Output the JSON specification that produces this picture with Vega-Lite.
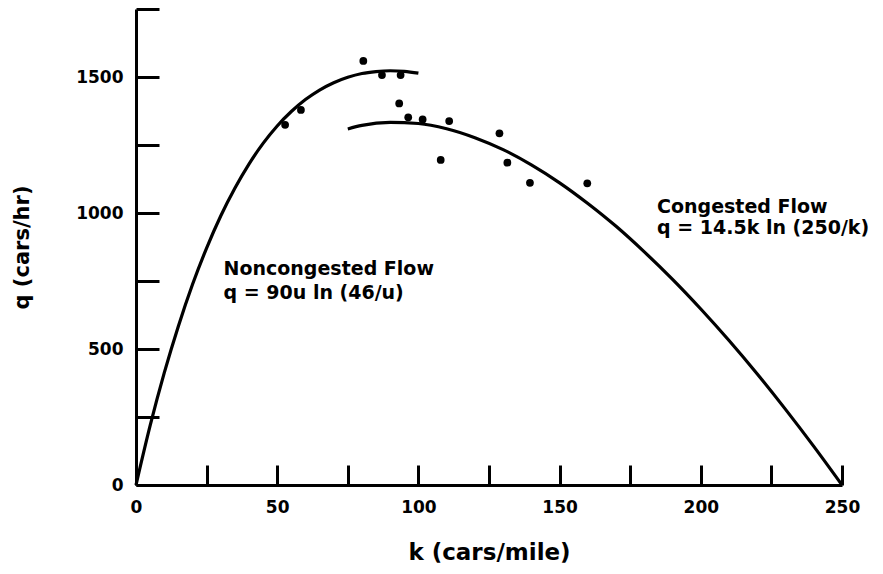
{
  "$schema": "https://vega.github.io/schema/vega-lite/v6.json",
  "width": 706,
  "height": 476,
  "autosize": {"type": "none"},
  "padding": {"left": 136, "top": 9, "right": 41, "bottom": 89},
  "background": "white",
  "config": {
    "view": {"stroke": null},
    "font": "DejaVu Sans",
    "axis": {
      "grid": false,
      "domainColor": "black",
      "domainWidth": 3,
      "tickColor": "black",
      "tickWidth": 3,
      "labelColor": "black",
      "titleColor": "black",
      "labelFont": "DejaVu Sans",
      "titleFont": "DejaVu Sans",
      "labelFontWeight": "bold",
      "titleFontWeight": "bold",
      "labelFontSize": 17
    }
  },
  "datasets": {
    "curves": [
      {"series": "noncongested", "k": 0, "q": 0},
      {"series": "noncongested", "k": 5, "q": 218},
      {"series": "noncongested", "k": 10, "q": 412},
      {"series": "noncongested", "k": 15, "q": 584},
      {"series": "noncongested", "k": 20, "q": 737},
      {"series": "noncongested", "k": 25, "q": 871},
      {"series": "noncongested", "k": 30, "q": 989},
      {"series": "noncongested", "k": 35, "q": 1091},
      {"series": "noncongested", "k": 40, "q": 1180},
      {"series": "noncongested", "k": 45, "q": 1256},
      {"series": "noncongested", "k": 50, "q": 1320},
      {"series": "noncongested", "k": 55, "q": 1373},
      {"series": "noncongested", "k": 60, "q": 1417},
      {"series": "noncongested", "k": 65, "q": 1452},
      {"series": "noncongested", "k": 70, "q": 1479},
      {"series": "noncongested", "k": 75, "q": 1499},
      {"series": "noncongested", "k": 80, "q": 1513},
      {"series": "noncongested", "k": 85, "q": 1520},
      {"series": "noncongested", "k": 90, "q": 1523},
      {"series": "noncongested", "k": 95, "q": 1521},
      {"series": "noncongested", "k": 100, "q": 1514},
      {"series": "congested", "k": 75, "q": 1309},
      {"series": "congested", "k": 80, "q": 1322},
      {"series": "congested", "k": 90, "q": 1333},
      {"series": "congested", "k": 100, "q": 1329},
      {"series": "congested", "k": 110, "q": 1310},
      {"series": "congested", "k": 120, "q": 1277},
      {"series": "congested", "k": 130, "q": 1233},
      {"series": "congested", "k": 140, "q": 1177},
      {"series": "congested", "k": 150, "q": 1111},
      {"series": "congested", "k": 160, "q": 1035},
      {"series": "congested", "k": 170, "q": 951},
      {"series": "congested", "k": 180, "q": 857},
      {"series": "congested", "k": 190, "q": 756},
      {"series": "congested", "k": 200, "q": 647},
      {"series": "congested", "k": 210, "q": 531},
      {"series": "congested", "k": 220, "q": 408},
      {"series": "congested", "k": 230, "q": 278},
      {"series": "congested", "k": 240, "q": 142},
      {"series": "congested", "k": 250, "q": 0}
    ],
    "points": [
      {"k": 52.8, "q": 1324},
      {"k": 58.4, "q": 1379},
      {"k": 80.5, "q": 1559},
      {"k": 87.1, "q": 1507},
      {"k": 93.7, "q": 1507},
      {"k": 93.2, "q": 1403},
      {"k": 96.4, "q": 1352},
      {"k": 101.5, "q": 1344},
      {"k": 110.9, "q": 1338},
      {"k": 107.9, "q": 1195},
      {"k": 128.7, "q": 1293},
      {"k": 131.5, "q": 1185},
      {"k": 139.5, "q": 1111},
      {"k": 159.8, "q": 1109}
    ],
    "labels": [
      {"k": 31, "q": 772, "text": "Noncongested Flow"},
      {"k": 31, "q": 684, "text": "q = 90u ln (46/u)"},
      {"k": 184.5, "q": 999, "text": "Congested Flow"},
      {"k": 184.5, "q": 922, "text": "q = 14.5k ln (250/k)"}
    ]
  },
  "layer": [
    {
      "data": {"name": "curves"},
      "mark": {"type": "line", "color": "black", "strokeWidth": 3.2, "interpolate": "monotone"},
      "encoding": {
        "x": {
          "field": "k", "type": "quantitative",
          "scale": {"domain": [0, 250], "nice": false},
          "axis": {
            "title": "k (cars/mile)",
            "values": [0, 25, 50, 75, 100, 125, 150, 175, 200, 225, 250],
            "labelExpr": "datum.value % 50 === 0 ? datum.label : ''",
            "tickSize": -20,
            "labelPadding": 34,
            "labelFlush": false,
            "titleFontSize": 23,
            "titlePadding": 26
          }
        },
        "y": {
          "field": "q", "type": "quantitative",
          "scale": {"domain": [0, 1750], "nice": false},
          "axis": {
            "title": "q (cars/hr)",
            "values": [0, 250, 500, 750, 1000, 1250, 1500, 1750],
            "format": "d",
            "labelExpr": "datum.value % 500 === 0 && datum.value < 1750 ? datum.label : ''",
            "tickSize": -23,
            "labelPadding": 36,
            "labelFlush": false,
            "titleFontSize": 21,
            "titlePadding": 43
          }
        },
        "detail": {"field": "series"}
      }
    },
    {
      "data": {"name": "points"},
      "mark": {"type": "circle", "color": "black", "opacity": 1, "size": 60},
      "encoding": {
        "x": {"field": "k", "type": "quantitative"},
        "y": {"field": "q", "type": "quantitative"}
      }
    },
    {
      "data": {"name": "labels"},
      "mark": {"type": "text", "align": "left", "baseline": "alphabetic", "font": "DejaVu Sans", "fontWeight": "bold", "fontSize": 19, "color": "black"},
      "encoding": {
        "x": {"field": "k", "type": "quantitative"},
        "y": {"field": "q", "type": "quantitative"},
        "text": {"field": "text"}
      }
    }
  ]
}
